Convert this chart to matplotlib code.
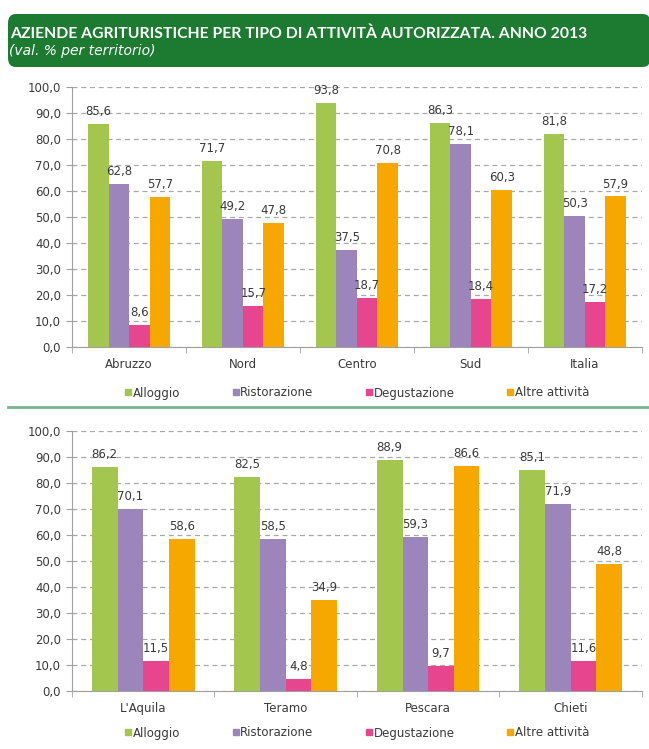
import numpy as np
import matplotlib
matplotlib.use("Agg")
import matplotlib.pyplot as plt
from matplotlib.patches import FancyBboxPatch
from matplotlib.lines import Line2D

# data
series = ["Alloggio", "Ristorazione", "Degustazione", "Altre attività"]
colors = ["#A2C64E", "#9C85BA", "#E8458F", "#F6A800"]

areas = ["Abruzzo", "Nord", "Centro", "Sud", "Italia"]
alloggio_a = [85.6, 71.7, 93.8, 86.3, 81.8]
ristorazione_a = [62.8, 49.2, 37.5, 78.1, 50.3]
degustazione_a = [8.6, 15.7, 18.7, 18.4, 17.2]
altre_a = [57.7, 47.8, 70.8, 60.3, 57.9]

provinces = ["L'Aquila", "Teramo", "Pescara", "Chieti"]
alloggio_p = [86.2, 82.5, 88.9, 85.1]
ristorazione_p = [70.1, 58.5, 59.3, 71.9]
degustazione_p = [11.5, 4.8, 9.7, 11.6]
altre_p = [58.6, 34.9, 86.6, 48.8]

plt.rcParams['font.family'] = ['DejaVu Sans']
text_col = "#3a3a3a"
fs = 8.5

fig = plt.figure(figsize=(6.49, 7.49), dpi=100)


def fmt(v):
    return f"{v:.1f}".replace(".", ",")


def draw(ax, cats, data):
    n = len(cats)
    x = np.arange(n)
    w = 0.18
    for i, vals in enumerate(data):
        pos = x + (i - 1.5) * w
        ax.bar(pos, vals, w, color=colors[i], zorder=3)
        for p, v in zip(pos, vals):
            ax.text(p, v + 2.3, fmt(v), ha="center", va="bottom",
                    fontsize=fs, color=text_col, zorder=4)
    ax.set_xlim(-0.5, n - 0.5)
    ax.set_ylim(0, 100)
    ax.set_yticks(np.arange(0, 101, 10))
    ax.set_yticklabels([fmt(t) for t in np.arange(0, 101, 10)],
                       fontsize=fs, color=text_col)
    ax.set_xticks(x)
    ax.set_xticklabels(cats, fontsize=fs, color=text_col)
    ax.set_xticks(np.arange(-0.5, n, 1), minor=True)
    ax.tick_params(axis="x", which="major", length=0, pad=8)
    ax.tick_params(axis="x", which="minor", length=4, color="#a0a0a0")
    ax.tick_params(axis="y", length=4, color="#a0a0a0", pad=4)
    ax.grid(axis="y", linestyle=(0, (4, 3)), color="#a8a8a8", linewidth=0.9, zorder=0)
    for s in ["top", "right"]:
        ax.spines[s].set_visible(False)
    for s in ["left", "bottom"]:
        ax.spines[s].set_color("#a0a0a0")


ax1 = fig.add_axes([0.111, 0.5367, 0.878, 0.3471])
draw(ax1, areas, [alloggio_a, ristorazione_a, degustazione_a, altre_a])

ax2 = fig.add_axes([0.111, 0.0774, 0.878, 0.3471])
draw(ax2, provinces, [alloggio_p, ristorazione_p, degustazione_p, altre_p])

handles = [Line2D([], [], marker="s", linestyle="none", markersize=4.5,
                  color=c) for c in colors]
for y in [1 - 393 / 749, 1 - 733 / 749]:
    fig.legend(handles, series, loc="center", bbox_to_anchor=(0.549, y),
               ncol=4, frameon=False, fontsize=fs, handletextpad=0.0,
               columnspacing=4.3, handlelength=0.8, labelcolor=text_col)

# header banner
banner = FancyBboxPatch((8 / 649, 1 - 67 / 749), 0.99, 53 / 749,
                        boxstyle="round,pad=0,rounding_size=0.012",
                        transform=fig.transFigure, facecolor="#1D7A31",
                        edgecolor="none", zorder=0)
fig.patches.append(banner)
fig.text(10 / 649, 1 - 34 / 749,
         "AZIENDE AGRITURISTICHE PER TIPO DI ATTIVITÀ AUTORIZZATA. ANNO 2013",
         color="white", fontsize=11.3, fontweight="bold", va="center",
         family=["Lato", "DejaVu Sans"])
fig.text(9 / 649, 1 - 51 / 749, "(val. % per territorio)", color="white",
         fontsize=10, style="italic", va="center")

# separator
fig.add_artist(Line2D([8 / 649, 1], [1 - 407 / 749] * 2, color="#74B38C",
                      linewidth=2, transform=fig.transFigure))

fig.savefig("out.png", dpi=100)
